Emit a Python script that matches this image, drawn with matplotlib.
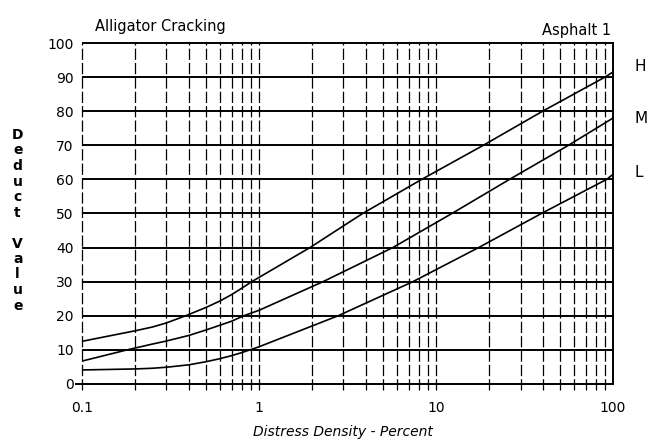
import matplotlib
matplotlib.use("Agg")
import matplotlib.pyplot as plt

# curve readings (distress density %, deduct value)
h_x = [0.1, 0.2, 0.25, 0.3, 0.385, 0.5, 0.6, 0.7, 0.8, 0.91, 1.94, 3.85,
       8.3, 18.5, 40.0, 90.0, 100.0]
h_y = [12.5, 15.6, 16.7, 17.9, 20, 22.4, 24.3, 26.2, 28.1, 30, 40, 50,
       60, 70, 80, 90, 91.5]
m_x = [0.1, 0.18, 0.25, 0.3, 0.4, 0.5, 0.6, 0.7, 0.82, 1.0, 2.3, 5.7,
       12.3, 26.0, 56.0, 100.0]
m_y = [6.7, 10, 11.7, 12.6, 14.2, 15.8, 17.2, 18.4, 20, 21.6, 30, 40,
       50, 60, 70, 78]
l_x = [0.1, 0.2, 0.25, 0.3, 0.4, 0.5, 0.6, 0.7, 0.8, 0.89, 1.0, 2.8,
       7.4, 17.4, 39.4, 92.0, 100.0]
l_y = [4.1, 4.4, 4.6, 4.9, 5.6, 6.5, 7.4, 8.3, 9.2, 10, 10.9, 20,
       30, 40, 50, 60, 61.5]

curve_labels = ["H", "M", "L"]
label_y = [93, 78, 62]
y_ticks = list(range(0, 101, 10))
x_ticks = [0.1, 1, 10, 100]
x_ticklabels = ["0.1", "1", "10", "100"]

fig = plt.figure(figsize=(6.54, 4.48), dpi=100)
ax = fig.add_axes([0.1254, 0.143, 0.812, 0.761])
ax.set_xscale("log")
ax.set_xlim(0.1, 100)
ax.set_ylim(0, 100)

# vertical dashed grid at every log step
vx = []
for dec in [0.1, 1, 10]:
    for k in range(1, 10):
        vx.append(dec * k)
for x in vx:
    ax.vlines(x, -1.8, 100, colors="black", linewidth=0.9,
              linestyles=(0, (9, 2.5)), clip_on=False)

# horizontal grid
for y in y_ticks:
    x0 = 0.091 if y == 0 else 0.1
    ax.hlines(y, x0, 100, colors="black", linewidth=1.4, clip_on=False)

for xs, ys in [(h_x, h_y), (m_x, m_y), (l_x, l_y)]:
    ax.plot(xs, ys, color="black", linewidth=1.2)

for s in ["left", "top", "bottom"]:
    ax.spines[s].set_visible(False)
ax.spines["right"].set_linewidth(1.4)

ax.set_yticks(y_ticks)
ax.set_yticklabels([str(v) for v in y_ticks], fontsize=10)
ax.set_xticks(x_ticks)
ax.set_xticklabels(x_ticklabels, fontsize=10)
ax.minorticks_off()
ax.tick_params(length=0, pad=12)
ax.tick_params(axis="y", pad=6)

for lab, yy in zip(curve_labels, label_y):
    ax.text(1.04, yy, lab, transform=ax.get_yaxis_transform(),
            fontsize=11, va="center", ha="left")

fig.text(0.145, 0.94, "Alligator Cracking", fontsize=10.5, ha="left", va="center")
fig.text(0.935, 0.933, "Asphalt 1", fontsize=10.5, ha="right", va="center")

# stacked y label
letters = list("Deduct") + [""] + list("Value")
for i, ch in enumerate(letters):
    fig.text(0.027, 1 - (135 + i * 15.5) / 448, ch, fontsize=10,
             fontweight="bold", ha="center", va="center")

fig.text(0.525, 0.035, "Distress Density - Percent", fontsize=10,
         style="italic", ha="center", va="center")

fig.savefig("out.png", dpi=100)
